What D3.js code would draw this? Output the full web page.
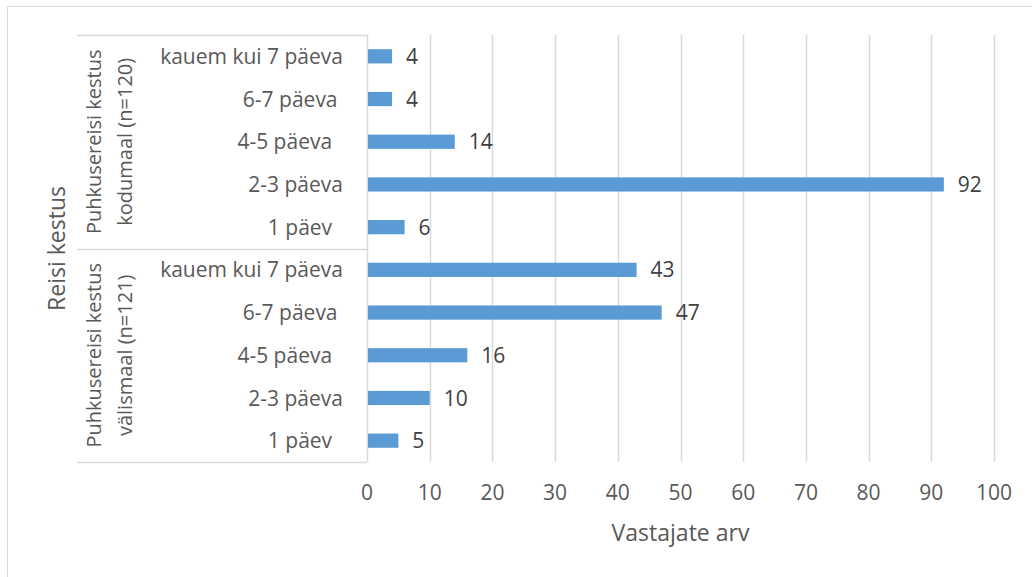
<!DOCTYPE html>
<html lang="et">
<head>
  <meta charset="UTF-8">
  <title>Reisi kestus</title>
  <style>
    body { margin: 0; background: #fff; }
    text { font-family: "Open Sans", sans-serif; fill: #595959; }
  </style>
</head>
<body>
  <script src="https://d3js.org/d3.v7.min.js"></script>
  <div id="chart"></div>
  <script>
    // groups, top to bottom
    var groups = [
      ["Puhkusereisi kestus", "kodumaal (n=120)"],
      ["Puhkusereisi kestus", "välismaal (n=121)"]
    ]
    // category labels inside each group (trailing spaces kept as in the source)
    var durations = ["kauem kui 7 päeva", "6-7 päeva ", "4-5 päeva  ", "2-3 päeva", "1 päev  "]
    var kodumaal = [4, 4, 14, 92, 6]
    var valismaal = [43, 47, 16, 10, 5]
    var xTicks = [0, 10, 20, 30, 40, 50, 60, 70, 80, 90, 100]

    var rows = []
    durations.forEach(function (d, i) { rows.push({ key: "k" + i, label: d, value: kodumaal[i] }) })
    durations.forEach(function (d, i) { rows.push({ key: "v" + i, label: d, value: valismaal[i] }) })

    var W = 1032, H = 577
    var svg = d3.select("#chart").append("svg")
      .attr("width", W).attr("height", H)

    // chart area border
    svg.append("rect")
      .attr("x", 7.5).attr("y", 6.5)
      .attr("width", W).attr("height", H)
      .attr("fill", "#fff").attr("stroke", "#d9d9d9")

    var x = d3.scaleLinear().domain([0, 100]).range([367, 994])
    var y = d3.scaleBand()
      .domain(rows.map(d => d.key))
      .range([35, 462])
      .paddingInner(0.667)
      .paddingOuter(0.333)

    var plotTop = y.range()[0], plotBottom = y.range()[1]

    // vertical gridlines
    svg.append("g").selectAll("line")
      .data(xTicks).enter().append("line")
      .attr("x1", d => Math.round(x(d)) + 0.5).attr("x2", d => Math.round(x(d)) + 0.5)
      .attr("y1", plotTop).attr("y2", plotBottom)
      .attr("stroke", "#d9d9d9").attr("stroke-width", 1.5)

    // x tick labels
    svg.append("g").selectAll("text")
      .data(xTicks).enter().append("text")
      .attr("x", d => x(d)).attr("y", 500)
      .attr("text-anchor", "middle")
      .style("font-size", "21px")
      .text(d => d)

    // category axis: group separators
    var step = y.step()
    var seps = d3.range(groups.length + 1).map(i => plotTop + i * durations.length * step)
    svg.append("g").selectAll("line")
      .data(seps).enter().append("line")
      .attr("x1", 77).attr("x2", 367)
      .attr("y1", d => Math.round(d) + 0.5).attr("y2", d => Math.round(d) + 0.5)
      .attr("stroke", "#d9d9d9").attr("stroke-width", 1.5)

    // bars
    svg.append("g").selectAll("rect")
      .data(rows).enter().append("rect")
      .attr("x", x(0) + 1)
      .attr("y", d => y(d.key))
      .attr("width", d => x(d.value) - x(0) - 1)
      .attr("height", y.bandwidth())
      .attr("fill", "#5b9bd5")

    // value labels
    svg.append("g").selectAll("text")
      .data(rows).enter().append("text")
      .attr("x", d => x(d.value) + 14)
      .attr("y", d => y(d.key) + y.bandwidth() / 2)
      .attr("dy", "0.36em")
      .style("font-size", "21px")
      .style("fill", "#404040")
      .text(d => d.value)

    // category labels
    svg.append("g").selectAll("text")
      .data(rows).enter().append("text")
      .attr("x", 343)
      .attr("y", d => y(d.key) + y.bandwidth() / 2)
      .attr("dy", "0.36em")
      .attr("text-anchor", "end")
      .style("font-size", "21px")
      .style("white-space", "pre")
      .text(d => d.label)

    // group labels (rotated, two lines)
    groups.forEach(function (g, i) {
      var cy = (seps[i] + seps[i + 1]) / 2
      g.forEach(function (line, j) {
        svg.append("text")
          .attr("transform", "translate(" + (94 + j * 31) + "," + cy + ") rotate(-90)")
          .attr("dy", "0.36em")
          .attr("text-anchor", "middle")
          .style("font-size", "20px")
          .text(line)
      })
    })

    // axis titles
    svg.append("text")
      .attr("transform", "translate(57," + (plotTop + plotBottom) / 2 + ") rotate(-90)")
      .attr("dy", "0.36em")
      .attr("text-anchor", "middle")
      .style("font-size", "23px")
      .text("Reisi kestus")

    svg.append("text")
      .attr("x", (x(0) + x(100)) / 2).attr("y", 533)
      .attr("dy", "0.36em")
      .attr("text-anchor", "middle")
      .style("font-size", "23px")
      .text("Vastajate arv")
  </script>
</body>
</html>
